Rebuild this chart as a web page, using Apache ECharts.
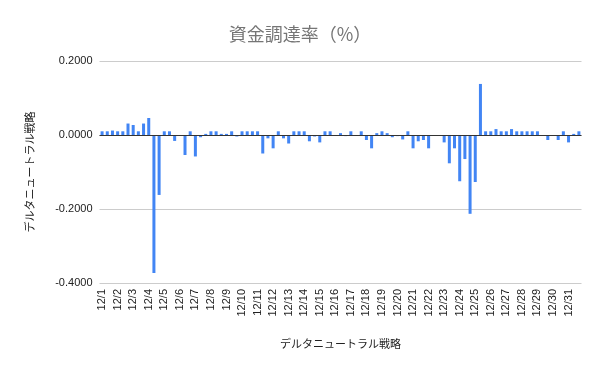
<!DOCTYPE html>
<html><head><meta charset="utf-8">
<script src="https://cdn.jsdelivr.net/npm/echarts@6/dist/echarts.min.js"></script>
<style>html,body{margin:0;padding:0;background:#fff}#c{width:600px;height:371px}</style>
</head><body><div id="c"></div>
<script>
const days = ['12/1','12/2','12/3','12/4','12/5','12/6','12/7','12/8','12/9','12/10','12/11','12/12','12/13','12/14','12/15','12/16','12/17','12/18','12/19','12/20','12/21','12/22','12/23','12/24','12/25','12/26','12/27','12/28','12/29','12/30','12/31'];
const slots = ['0:00','8:00','16:00'];
const rates = [
 0.01, 0.01, 0.012, 0.01, 0.01, 0.031, 0.027, 0.01, 0.031, 0.046,
 -0.373, -0.162, 0.01, 0.01, -0.016, 0, -0.054, 0.01, -0.058, -0.006,
 0.003, 0.01, 0.01, 0.003, 0.003, 0.01, -0.004, 0.01, 0.01, 0.01,
 0.01, -0.05, -0.009, -0.036, 0.01, -0.009, -0.023, 0.01, 0.01, 0.01,
 -0.017, -0.004, -0.02, 0.01, 0.01, 0, 0.005, -0.003, 0.01, 0,
 0.01, -0.0135, -0.036, 0.005, 0.01, 0.005, -0.006, -0.003, -0.012, 0.01,
 -0.036, -0.017, -0.0135, -0.036, 0, 0, -0.02, -0.0765, -0.036, -0.125,
 -0.065, -0.213, -0.127, 0.138, 0.01, 0.01, 0.016, 0.01, 0.01, 0.016,
 0.01, 0.01, 0.01, 0.01, 0.01, 0, -0.0135, 0, -0.0135, 0.01,
 -0.02, 0.003, 0.01
];
const yTicks = {min: -0.4, max: 0.2, interval: 0.2};
const titleText = '資金調達率（%）';
const axisName = 'デルタニュートラル戦略';

const cats = [];
days.forEach(d => slots.forEach(s => cats.push(d + ' ' + s)));

const chart = echarts.init(document.getElementById('c'), null, {renderer: 'canvas'});
chart.setOption({
  animation: false,
  title: {
    text: titleText, left: 'center', top: 20,
    textStyle: {fontFamily: 'Noto Sans CJK JP', fontSize: 18, fontWeight: 'normal', color: '#757575'}
  },
  grid: {left: 99.5, right: 18.5, top: 61, bottom: 88},
  xAxis: {
    type: 'category', data: cats, boundaryGap: true,
    name: axisName, nameLocation: 'middle', nameGap: 55,
    nameTextStyle: {fontFamily: 'Noto Sans CJK JP', fontSize: 11, color: '#222'},
    axisLine: {show: false, onZero: false},
    axisTick: {show: false},
    axisLabel: {
      interval: (i) => i % 3 === 0,
      rotate: 90, margin: 6,
      fontFamily: 'Liberation Sans', fontSize: 11, color: '#222',
      formatter: (v) => v.split(' ')[0]
    },
    splitLine: {show: false}
  },
  yAxis: {
    type: 'value', min: yTicks.min, max: yTicks.max, interval: yTicks.interval,
    name: axisName, nameLocation: 'middle', nameGap: 64, nameRotate: 90,
    nameTextStyle: {fontFamily: 'Noto Sans CJK JP', fontSize: 11, color: '#222'},
    axisLine: {show: false}, axisTick: {show: false},
    axisLabel: {fontFamily: 'Liberation Sans', fontSize: 11, color: '#222', margin: 7,
      formatter: (v) => v.toFixed(4)},
    splitLine: {lineStyle: {color: '#cccccc', width: 1}}
  },
  series: [{
    type: 'bar', data: rates, barWidth: '58%',
    itemStyle: {color: '#4285F4'},
    markLine: {
      silent: true, symbol: 'none', label: {show: false},
      lineStyle: {color: '#333333', type: 'solid', width: 1},
      data: [{yAxis: 0}]
    }
  }]
});
</script></body></html>
